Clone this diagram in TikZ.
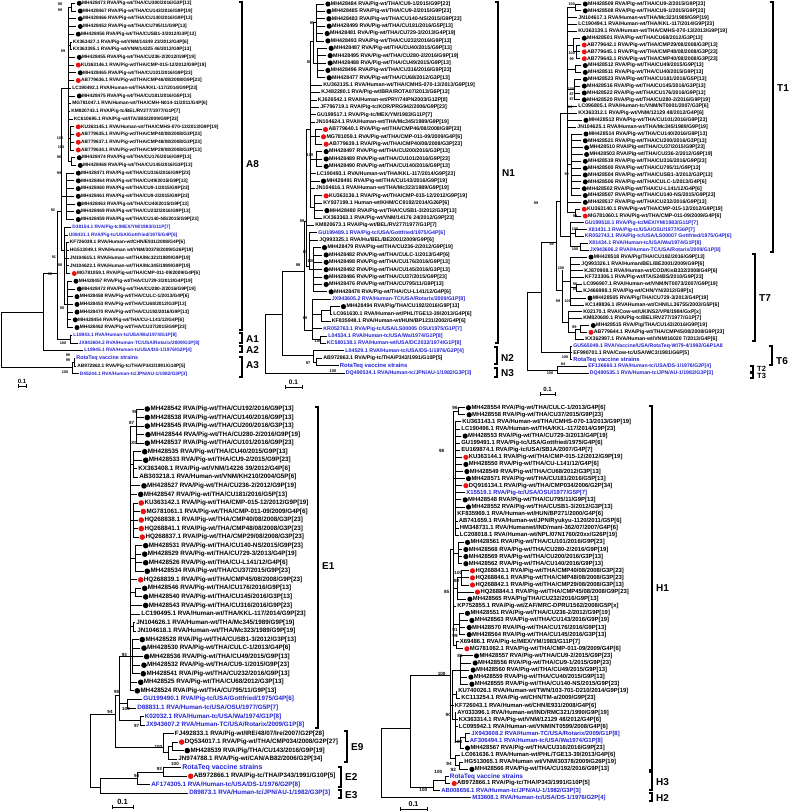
\documentclass[tikz,border=0pt]{standalone}
\usepackage{fontspec}
\setmainfont{Liberation Sans}
\definecolor{refblue}{RGB}{35,35,215}
\definecolor{cmpred}{RGB}{235,20,20}
\newcounter{bootno}
\def\cnsz{10}
\tikzset{
  branch/.style={line width=0.8pt, line cap=rect},
  bracket/.style={line width=1.8pt},
  taxon/.style={anchor=west, inner sep=0pt, xshift=1.2pt, font=\bfseries\fontsize{\fsz}{\fsz}\selectfont},
  plain/.style={},
  pig/.style={xshift=5.8pt, label distance=1.5pt, label={[pigdot]left:{}}},
  cmp/.style={xshift=5.8pt, label distance=1.5pt, label={[cmpdot]left:{}}},
  ref/.style={text=refblue},
  rota/.style={text=refblue, font=\bfseries\fontsize{\fszr}{\fszr}\selectfont},
  pigdot/.style={circle, fill=black, minimum size=\dotd, inner sep=0pt},
  cmpdot/.style={pigdot, fill=cmpred},
  bootval/.style={inner sep=0pt, font=\bfseries\fontsize{\bsz}{\bsz}\selectfont},
  cladename/.style={anchor=west, inner sep=0pt, font=\bfseries\fontsize{\cnsz}{\cnsz}\selectfont},
  scalelabel/.style={anchor=south, inner sep=0pt, font=\bfseries\fontsize{\ssz}{\ssz}\selectfont}
}
\newcommand{\pigwt}{RVA/Pig-wt/THA/}
\newcommand{\ry}[1]{\rowtop+(#1-1)*\rowgap}
% [kind]{row}{parent x}{tip x}{text}
\newcommand{\taxon}[5][plain]{%
  \draw[branch] (#3,{\ry{#2}}) -- (#4,{\ry{#2}});
  \node[taxon,#1] (\pfx-#2) at (#4,{\ry{#2}}) {#5};}
\newcommand{\clade}[3]{\draw[branch] (#1,{\ry{#2}}) -- (#1,{\ry{#3}});}
\newcommand{\stem}[3]{\draw[branch] (#2,{\ry{#1}}) -- (#3,{\ry{#1}});}
\newcommand{\boot}[3]{\stepcounter{bootno}\node[bootval] (bs\arabic{bootno}) at (#1,#2) {#3};}
\newcommand{\cladebar}[5]{%
  \draw[bracket] (#1-3.5,#2) -- (#1,#2) -- (#1,#3) -- (#1-3.5,#3);
  \node[cladename] (cl#4) at (#1+4,#5) {#4};}
\newcommand{\scalebar}[4]{%
  \draw[branch] (#1,#3-1.5) -- (#1,#3+1.5) (#1,#3) -- (#2,#3) (#2,#3-1.5) -- (#2,#3+1.5);
  \node[scalelabel] (#4) at ({(#1+#2)/2},#3-2.5) {0.1};}

\begin{document}
\begin{tikzpicture}[x=1pt,y=-1pt]
\fill[white] (0,0) rectangle (790,811);
\useasboundingbox (0,0) rectangle (790,811);

%% ---------- panel A (top left) ----------
\def\pfx{A}\def\rowtop{3.3}\def\rowgap{7.72}\def\fsz{4.8}\def\fszr{5.4}\def\dotd{5pt}\def\bsz{3.8}\def\ssz{6}
\taxon[pig]{1}{71}{75}{MH428473 \pigwt CU300/2016/G3P[13]}
\taxon[pig]{2}{71}{76}{MH428467 \pigwt CU143/2016/G9P[19]}
\taxon[pig]{3}{68}{76}{MH428466 \pigwt CU140/2016/G9P[13]}
\taxon[pig]{4}{68}{76}{MH428452 \pigwt CU795/11/G9P[13]}
\taxon[pig]{5}{68}{74}{MH428456 \pigwt CUSB1-3/2012/G3P[13]}
\taxon{6}{70}{71.5}{KX363427.1 RVA/Pig-wt/VNM/14249 23/2012/G4P[6]}
\taxon{7}{70}{71.5}{KX363395.1 RVA/Pig-wt/VNM/14225 46/2012/G9P[13]}
\taxon[pig]{8}{68}{75}{MH428455 \pigwt CU236-2/2012/G9P[19]}
\taxon[cmp]{9}{68}{74}{KU363146.1 \pigwt CMP-015-12/2012/G9P[19]}
\taxon[pig]{10}{68}{76}{MH428465 \pigwt CU101/2016/G9P[23]}
\taxon[cmp]{11}{68}{74}{AB779636.1 \pigwt CMP46/08/2008/G9P[23]}
\taxon{12}{68}{71}{LC190492.1 RVA/Human-wt/THA/KKL-117/2014/G9P[23]}
\taxon[pig]{13}{68}{75}{MH428475 \pigwt CU181/2016/G5P[13]}
\taxon{14}{68}{71}{MG781047.1 RVA/Human-wt/THA/CMH-N014-11/2011/G4P[6]}
\taxon{15}{68}{70}{KM820743.1 RVA/Pig-tc/BEL/RV277/1977/G1P[7]}
\taxon{16}{68}{72.5}{KC610695.1 RVA/Pig-wt/ITA/3BS/2009/G9P[23]}
\taxon[cmp]{17}{70}{74}{KU363145.1 RVA/Human-wt/THA/CMHS-070-13/2013/G9P[19]}
\taxon[cmp]{18}{70}{74}{AB779635.1 \pigwt CMP40/08/2008/G3P[23]}
\taxon[cmp]{19}{70}{74}{AB779637.1 \pigwt CMP48/08/2008/G3P[23]}
\taxon[cmp]{20}{70}{74}{AB779634.1 \pigwt CMP29/08/2008/G3P[13]}
\taxon[pig]{21}{71}{75}{MH428474 \pigwt CU176/2016/G9P[13]}
\taxon[pig]{22}{71}{76}{MH428468 \pigwt CU145/2016/G3P[13]}
\taxon[pig]{23}{66}{74}{MH428471 \pigwt CU316/2016/G9P[23]}
\taxon[pig]{24}{66}{74}{MH428464 \pigwt CU49/2015/G9P[13]}
\taxon[pig]{25}{66}{74}{MH428460 \pigwt CU9-1/2015/G9P[23]}
\taxon[pig]{26}{66}{74}{MH428461 \pigwt CU9-2/2015/G9P[23]}
\taxon[pig]{27}{66}{75}{MH428463 \pigwt CU40/2015/G9P[13]}
\taxon[pig]{28}{66}{74}{MH428469 \pigwt CU232/2016/G9P[13]}
\taxon[pig]{29}{66}{74}{MH428459 \pigwt CU140-NS/2015/G9P[23]}
\taxon[ref]{30}{64}{71}{D38154.1 RVA/Pig-tc/MEX/YM/1983/G11P[7]}
\taxon[ref]{31}{64}{67.5}{U08431.1 RVA/Pig-tc/USA/Gottfried/1975/G4P[6]}
\taxon{32}{66.5}{68.5}{KF726039.1 RVA/Human-wt/CHN/E931/2008/G4P[6]}
\taxon{33}{66.5}{68.5}{HG513049.1 RVA/Human wt/VNM/30378/2009/G26P[19]}
\taxon{34}{66.5}{68.5}{JN104615.1 RVA/Human-wt/THA/Mc323/1989/G9P[19]}
\taxon{35}{66.5}{68.5}{JN104623.1 RVA/Human-wt/THA/Mc345/1989/G9P[19]}
\taxon[cmp]{36}{66.5}{70}{MG781059.1 \pigwt CMP-011-09/2009/G4P[6]}
\taxon[pig]{37}{67}{71.7}{MH428457 \pigwt CU729-3/2013/G4P[19]}
\taxon[pig]{38}{67}{75}{MH428472 \pigwt CU280-2/2016/G9P[19]}
\taxon[pig]{39}{67}{72.7}{MH428458 \pigwt CULC-1/2013/G4P[6]}
\taxon[pig]{40}{67}{72.7}{MH428453 \pigwt CU68/2012/G3P[13]}
\taxon[pig]{41}{67}{72.7}{MH428470 \pigwt CU192/2016/G9P[13]}
\taxon[pig]{42}{67}{71}{MH428454 \pigwt CU-L141/12/G4P[6]}
\taxon[pig]{43}{67}{72.7}{MH428462 \pigwt CU37/2015/G9P[23]}
\taxon[ref]{44}{70}{72}{L18943.1 RVA/Human-tc/USA/Wa/1974/G1P[8]}
\taxon[ref]{45}{70}{77.5}{JX943604.2 RVA/Human-TC/USA/Rotarix/2009/G1P[8]}
\taxon[ref]{46}{43}{83}{L18945.1 RVA/Human-tc/USA/DS-1/1976/G2P[4]}
\taxon[rota]{47}{74}{75}{RotaTeq vaccine strains}
\taxon{48}{74}{76}{AB972862.1 RVA/Pig-tc/THA/P343/1991/G10P[5]}
\taxon[ref]{49}{72}{78.5}{D45244.1 RVA/Human-tc/JPN/AU-1/1982/G3P[3]}
% inner branches
\clade{71}{1}{2} \stem{1.5}{68}{71}
\clade{70}{6}{7} \stem{6.5}{68}{70}
\clade{70}{17}{20} \stem{18.5}{68}{70}
\clade{71}{21}{22} \stem{21.5}{68}{71}
\clade{68}{1.5}{21.5} \stem{12}{61}{68}
\clade{66}{23}{29} \stem{26}{61}{66}
\clade{66.5}{32}{36} \stem{34}{64}{66.5}
\clade{67}{37}{43} \stem{40}{64}{67}
\clade{64}{30}{40} \stem{33}{61}{64}
\clade{61}{12}{33} \stem{28}{57}{61}
\clade{70}{44}{45} \stem{44.5}{57}{70}
\clade{57}{28}{44.5} \stem{36}{43}{57}
\clade{43}{36}{46}
\clade{74}{47}{48} \stem{47.5}{72}{74}
\clade{72}{47.5}{49}
\clade{1}{41.1}{48.2} \stem{41.1}{1}{43} \stem{48.2}{1}{72}
% support values
\boot{60}{4}{98} \boot{60}{10}{99} \boot{63}{51}{99} \boot{60}{138}{100}
\boot{61}{147}{100} \boot{59}{157}{96} \boot{59}{173}{99} \boot{53}{210}{92}
\boot{54}{257}{91} \boot{60}{265}{98} \boot{50}{274}{98} \boot{62}{308}{98}
\boot{63}{343}{100} \boot{68}{355}{99} \boot{68}{360}{99} \boot{65}{372}{100}
\cladebar{242}{2}{330}{A8}{164}
\cladebar{242}{333}{343}{A1}{339}
\cladebar{242}{346}{352}{A2}{350}
\cladebar{242}{357}{377}{A3}{365}
\scalebar{18}{26}{386}{sbA}

%% ---------- panel N (top middle) ----------
\def\pfx{N}\def\rowtop{4}\def\rowgap{7.38}\def\fsz{5.3}\def\fszr{5.9}\def\dotd{5.2pt}\def\bsz{4}\def\ssz{6.5}
\taxon[pig]{1}{316}{323.7}{MH428484 \pigwt CU9-1/2015/G9P[23]}
\taxon[pig]{2}{316}{324.7}{MH428485 \pigwt CU9-2/2015/G9P[23]}
\taxon[pig]{3}{316}{324.7}{MH428483 \pigwt CU140-NS/2015/G9P[23]}
\taxon[pig]{4}{316}{325}{MH428499 \pigwt CU181/2016/G5P[13]}
\taxon[pig]{5}{316}{323}{MH428481 \pigwt CU729-3/2013/G4P[19]}
\taxon[pig]{6}{316}{323.7}{MH428493 \pigwt CU232/2016/G9P[13]}
\taxon[pig]{7}{317}{327}{MH428487 \pigwt CU40/2015/G9P[13]}
\taxon[pig]{8}{317}{326}{MH428495 \pigwt CU280-2/2016/G9P[19]}
\taxon[pig]{9}{317}{326}{MH428488 \pigwt CU49/2015/G9P[13]}
\taxon[pig]{10}{317}{323.7}{MH428496 \pigwt CU316/2016/G9P[23]}
\taxon[pig]{11}{317}{325}{MH428477 \pigwt CU68/2012/G3P[13]}
\taxon{12}{310}{322}{KU363135.1 RVA/Human-wt/THA/CMHS-070-13/2013/G9P[19]}
\taxon{13}{310}{320}{KJ482280.1 RVA/Pig-wt/BRA/ROTA07/2013/G6P[13]}
\taxon{14}{310}{316.5}{KJ626542.1 RVA/Human-wt/PRY/74IPN2003/G12P[8]}
\taxon{15}{310}{319}{JF796719.1 RVA/Pig-tc/KOR/PRG942/2006/G9P[23]}
\taxon{16}{310}{315.5}{GU199517.1 RVA/Pig-tc/MEX/YM/1983/G11P[7]}
\taxon{17}{310}{314.5}{JN104624.1 RVA/Human-wt/THA/Mc345/1989/G9P[19]}
\taxon[cmp]{18}{315}{321.3}{AB779640.1 \pigwt CMP46/08/2008/G9P[23]}
\taxon[cmp]{19}{315}{319.3}{MG781059.1 \pigwt CMP-011-09/2009/G4P[6]}
\taxon[cmp]{20}{315}{322}{AB779639.1 \pigwt CMP40/08/2008/G3P[23]}
\taxon[pig]{21}{316}{322}{MH428497 \pigwt CU200/2016/G3P[13]}
\taxon[pig]{22}{316}{322}{MH428489 \pigwt CU101/2016/G9P[23]}
\taxon[pig]{23}{316}{322}{MH428490 \pigwt CU140/2016/G9P[13]}
\taxon{24}{310}{315.5}{LC190493.1 RVA/Human-wt/THA/KKL-117/2014/G9P[23]}
\taxon[pig]{25}{310}{319.3}{MH428491 \pigwt CU143/2016/G9P[19]}
\taxon{26}{310}{314.5}{JN104616.1 RVA/Human-wt/THA/Mc323/1989/G9P[19]}
\taxon[cmp]{27}{314}{322}{KU363136.1 \pigwt CMP-015-12/2012/G9P[19]}
\taxon{28}{314}{322}{KY937199.1 Human-wt/KHM/CC9192/2014/G26P[6]}
\taxon[pig]{29}{314}{322.7}{MH428480 \pigwt CUSB1-3/2012/G3P[13]}
\taxon{30}{314}{322}{KX363363.1 RVA/Pig-wt/VNM/14176 24/2012/G9P[23]}
\taxon{31}{306}{314}{KM820673.1 RVA/Pig-wt/BEL/RV277/1977/G1P[7]}
\taxon[ref]{32}{309}{317}{GU199489.1 RVA/Pig-tc/USA/Gottfried/1975/G4P[6]}
\taxon{33}{309}{318}{JQ993325.1 RVA/Hu/BEL/BE2001/2009/G9P[6]}
\taxon[pig]{34}{313}{320.3}{MH428479 \pigwt CU236-2/2012/G9P[19]}
\taxon[pig]{35}{313}{322}{MH428482 \pigwt CULC-1/2013/G4P[6]}
\taxon[pig]{36}{313}{322}{MH428498 \pigwt CU176/2016/G9P[13]}
\taxon[pig]{37}{313}{322}{MH428492 \pigwt CU145/2016/G3P[13]}
\taxon[pig]{38}{313}{322}{MH428486 \pigwt CU37/2015/G9P[23]}
\taxon[pig]{39}{313}{322}{MH428476 \pigwt CU795/11/G9P[13]}
\taxon[pig]{40}{313}{327}{MH428478 \pigwt CU-L141/12/G4P[6]}
\taxon[ref]{41}{312}{330.5}{JX943605.2 RVA/Human-TC/USA/Rotarix/2009/G1P[8]}
\taxon[pig]{42}{330}{339.3}{MH428494 RVA/Pig/THA/CU192/2016/G9P[13]}
\taxon{43}{330}{332}{LC061630.1 RVA/Human-wt/PHL/TGE13-39/2013/G4P[6]}
\taxon{44}{321}{330.5}{KF835948.1 RVA/Human-wt/HUN/BP1231/2002/G4P[6]}
\taxon[ref]{45}{312}{322}{KR052763.1 RVA/Pig-tc/USA/LS00005 OSU/1975/G1P[7]}
\taxon[ref]{46}{320}{327}{L04534.1 RVA/Human-tc/USA/Wa/1974/G1P[8]}
\taxon[ref]{47}{320}{325.5}{KC580138.1 RVA/Human-wt/USA/DC2032/1974/G1P[8]}
\taxon[ref]{48}{313}{344}{L04529.1 RVA/Human-tc/USA/DS-1/1976/G2P[4]}
\taxon{49}{316}{322}{AB972863.1 RVA/Pig-tc/THA/P343/1991/G10P[5]}
\taxon[rota]{50}{316}{338.5}{RotaTeq vaccine strains}
\taxon[ref]{51}{265}{344.5}{DQ490534.1 RVA/Human-tc/JPN/AU-1/1982/G3P[3]}
% inner branches
\clade{316}{1}{6} \stem{3.5}{313}{316}
\clade{317}{7}{11} \stem{9}{313}{317}
\clade{313}{3.5}{9} \stem{6}{310}{313}
\clade{315}{18}{20} \stem{19}{310}{315}
\clade{316}{21}{23} \stem{22}{310}{316}
\clade{314}{27}{30} \stem{28.5}{310}{314}
\clade{310}{6}{28.5} \stem{18}{306}{310}
\clade{313}{34}{40} \stem{37}{309}{313}
\clade{309}{32}{37} \stem{36.5}{306}{309}
\clade{306}{18}{36.5} \stem{30.5}{304}{306}
\clade{330}{42}{43} \stem{42.5}{321}{330}
\clade{321}{42.5}{44} \stem{43}{312}{321}
\clade{320}{46}{47} \stem{46.5}{312}{320}
\clade{312}{41}{46.5} \stem{45.2}{304}{312}
\clade{304}{30.5}{45.2} \stem{37.2}{282}{304}
\clade{316}{49}{50} \stem{49.5}{313}{316}
\clade{313}{48}{49.5} \stem{48.6}{282}{313}
\clade{282}{37.2}{48.6} \stem{43.1}{265}{282}
\clade{265}{43.1}{51}
% support values
\boot{312}{23}{95} \boot{309}{62}{80} \boot{310}{155}{100} \boot{302}{221}{99}
\boot{305}{252}{89} \boot{311}{261}{100} \boot{298}{265}{98} \boot{305}{318}{88}
\boot{318}{341}{100} \boot{308}{363}{97} \boot{333}{371}{100}
\cladebar{498}{2}{343}{N1}{173}
\cladebar{497}{347}{364}{N2}{358}
\cladebar{497}{368}{377}{N3}{373}
\scalebar{285}{302}{387}{sbN}

%% ---------- panel T (top right) ----------
\def\pfx{T}\def\rowtop{4}\def\rowgap{6.84}\def\fsz{5.2}\def\fszr{5.8}\def\dotd{5pt}\def\bsz{3.8}\def\ssz{6}
\taxon[pig]{1}{575}{581}{MH428509 \pigwt CU9-2/2015/G9P[23]}
\taxon[pig]{2}{575}{581}{MH428508 \pigwt CU9-1/2015/G9P[23]}
\taxon{3}{567}{577}{JN104617.1 RVA/Human-wt/THA/Mc323/1989/G9P[19]}
\taxon{4}{567}{577}{LC190494.1 RVA/Human-wt/THA/KKL-117/2014/G9P[23]}
\taxon{5}{567}{577}{KU363139.1 RVA/Human-wt/THA/CMHS-070-13/2013/G9P[19]}
\taxon[pig]{6}{573}{580}{MH428501 \pigwt CU68/2012/G3P[13]}
\taxon[cmp]{7}{576}{580}{AB779642.1 \pigwt CMP29/08/2008/G3P[13]}
\taxon[cmp]{8}{576}{580}{AB779645.1 \pigwt CMP48/08/2008/G3P[23]}
\taxon[cmp]{9}{576}{580}{AB779643.1 \pigwt CMP40/08/2008/G3P[23]}
\taxon[pig]{10}{575}{581}{MH428512 \pigwt CU49/2015/G9P[13]}
\taxon[pig]{11}{575}{581}{MH428511 \pigwt CU40/2015/G9P[13]}
\taxon[pig]{12}{574}{581}{MH428523 \pigwt CU181/2016/G5P[13]}
\taxon[pig]{13}{574}{580}{MH428516 \pigwt CU145/2016/G3P[13]}
\taxon[pig]{14}{574}{580}{MH428522 \pigwt CU176/2016/G9P[13]}
\taxon[pig]{15}{574}{580}{MH428520 \pigwt CU280-2/2016/G9P[19]}
\taxon{16}{567}{577}{LC096805.1 RVA/Human-tc/VNM/NT0001/2007/G3P[6]}
\taxon{17}{567}{577}{KX363312.1 RVA/Pig-wt/VNM/12129 48/2012/G4P[6]}
\taxon[pig]{18}{567}{581.7}{MH428513 \pigwt CU101/2016/G9P[23]}
\taxon{19}{567}{576}{JN104625.1 RVA/Human-wt/THA/Mc345/1989/G9P[19]}
\taxon[pig]{20}{571}{581.7}{MH428514 \pigwt CU140/2016/G9P[13]}
\taxon[pig]{21}{571}{581}{MH428521 \pigwt CU200/2016/G3P[13]}
\taxon[pig]{22}{571}{582.3}{MH428510 \pigwt CU37/2015/G9P[23]}
\taxon[pig]{23}{571}{582.3}{MH428503 \pigwt CU236-2/2012/G9P[19]}
\taxon[pig]{24}{571}{581}{MH428519 \pigwt CU316/2016/G9P[23]}
\taxon[pig]{25}{571}{581}{MH428500 \pigwt CU795/11/G9P[13]}
\taxon[pig]{26}{571}{581}{MH428504 \pigwt CUSB1-3/2012/G3P[13]}
\taxon[pig]{27}{571}{581}{MH428506 \pigwt CULC-1/2013/G4P[6]}
\taxon[pig]{28}{571}{580}{MH428502 \pigwt CU-L141/12/G4P[6]}
\taxon[pig]{29}{571}{581}{MH428507 \pigwt CU140-NS/2015/G9P[23]}
\taxon[pig]{30}{567}{581}{MH428517 \pigwt CU232/2016/G9P[13]}
\taxon[cmp]{31}{575}{580}{KU363140.1 \pigwt CMP-015-12/2012/G9P[19]}
\taxon[cmp]{32}{575}{581}{MG781060.1 \pigwt CMP-011-09/2009/G4P[6]}
\taxon[ref]{33}{570}{583.5}{GU199518.1 RVA/Pig-tc/MEX/YM/1983/G11P[7]}
\taxon[ref]{34}{575}{587}{X81431.1 RVA/Pig-tc/USA/OSU/1977/G6P[7]}
\taxon[ref]{35}{575}{583.5}{KR052743.1 RVA/Pig-tc/USA/LS00007 Gottfried/1975/G4P[6]}
\taxon[ref]{36}{580}{587.5}{X81434.1 RVA/Human-tc/USA/Wa/1974/G1P[8]}
\taxon[ref]{37}{580}{588.5}{JX943606.2 RVA/Human-TC/USA/Rotarix/2009/G1P[8]}
\taxon[pig]{38}{570}{586.7}{MH428518 RVA/Pig/THA/CU192/2016/G9P[13]}
\taxon{39}{570}{580}{JQ993326.1 RVA/Human/BEL/BE2001/2009/G9P[6]}
\taxon{40}{570}{583}{KJ870908.1 RVA/Human-wt/COD/KisB332/2008/G4P[6]}
\taxon{41}{570}{583.5}{KF723306.1 RVA/Pig-wt/ITA/524BS/2010/G9P[23]}
\taxon{42}{576}{582}{LC096907.1 RVA/Human-wt/VNM/NT0073/2007/G9P[19]}
\taxon{43}{576}{582}{KJ466988.1 RVA/Pig-wt/CHN/YN/2012/G9P[x]}
\taxon[pig]{44}{570}{585.7}{MH428505 RVA/Pig/THA/CU729-3/2013/G4P[19]}
\taxon{45}{570}{584}{KC149836.1 /RVAHuman-wt/CHN/LL36755/2003/G5P[6]}
\taxon{46}{568}{582}{K02170.1 RVA/Cow-wt/UK/NS2/VP8/1984/GxP[x]}
\taxon{47}{568}{582}{KM820680.1 RVA/Pig-tc/BEL/RV277/1977/G1P[7]}
\taxon[pig]{48}{580}{589}{MH428515 RVA/Pig/THA/CU143/2016/G9P[19]}
\taxon[cmp]{49}{580}{586.7}{AB779644.1 \pigwt CMP45/08/2008/G9P[23]}
\taxon{50}{575}{584}{KX362997.1 RVA/Human-wt/VNM/16020 7/2013/G4P[6]}
\taxon[ref]{51}{570}{572}{GU565049.1 RVA/Vaccine/USA/RotaTeq-WI79-4/1992/G6P1A8}
\taxon{52}{570}{572}{EF990701.1 RVA/Cow-tc/USA/WC3/1981/G6P[5]}
\taxon[rota]{53}{570}{572}{RotaTeq vaccine strains}
\taxon[ref]{54}{557}{587}{EF136660.1 RVA/Human-tc/USA/DS-1/1976/G2P[4]}
\taxon[ref]{55}{557}{588.5}{DQ490535.1 RVA/Human-tc/JPN/AU-1/1982/G3P[3]}
% inner branches
\clade{575}{1}{2} \stem{1.5}{567}{575}
\clade{576}{7}{9} \stem{8}{573}{576}
\clade{573}{6}{8} \stem{7}{567}{573}
\clade{575}{10}{11} \stem{10.5}{567}{575}
\clade{574}{12}{15} \stem{13.5}{567}{574}
\clade{571}{20}{29} \stem{24.5}{567}{571}
\clade{575}{31}{32} \stem{31.5}{567}{575}
\clade{567}{1.5}{31.5} \stem{17}{560}{567}
\clade{575}{34}{35} \stem{34.5}{570}{575}
\clade{580}{36}{37} \stem{36.5}{570}{580}
\clade{570}{33}{36.5} \stem{35}{560}{570}
\clade{560}{17}{35} \stem{29.9}{556}{560}
\clade{576}{42}{43} \stem{42.5}{570}{576}
\clade{570}{38}{45} \stem{41.5}{562}{570}
\clade{580}{48}{49} \stem{48.5}{575}{580}
\clade{575}{48.5}{50} \stem{49}{568}{575}
\clade{568}{46}{49} \stem{47.5}{562}{568}
\clade{562}{40}{47.5} \stem{42.8}{556}{562}
\clade{556}{29.9}{42.8} \stem{35.9}{541}{556}
\clade{570}{51}{53} \stem{52}{541}{570}
\clade{541}{35.9}{52} \stem{43.2}{527}{541}
\clade{557}{54}{55} \stem{54.5}{527}{557}
\clade{527}{43.2}{54.5}
% support values
\boot{571.7}{4}{100} \boot{571.7}{53.3}{100} \boot{571.7}{59.3}{99} \boot{571}{89.3}{100}
\boot{571.7}{94.3}{87} \boot{571.7}{99.3}{87} \boot{570}{106.7}{84} \boot{566.7}{174}{99}
\boot{536}{203}{99} \boot{575}{216}{99} \boot{575}{229.3}{100} \boot{551.7}{244.3}{89}
\boot{575}{249.3}{100} \boot{561}{267.7}{100} \boot{575}{284.3}{96} \boot{575}{289}{89}
\boot{558}{301}{99} \boot{567.7}{301}{100} \boot{574.3}{326.7}{99} \boot{565}{357.5}{100}
\boot{563}{364}{84} \boot{550}{373.3}{100}
\cladebar{773}{2}{252}{T1}{88}
\cladebar{755}{254}{341}{T7}{298}
\cladebar{772}{346}{365}{T6}{361}
\def\cnsz{7.5}
\cladebar{753}{366}{372}{T2}{368.7}
\cladebar{753}{373.5}{378}{T3}{376.3}
\def\cnsz{10}
\scalebar{540}{555}{394}{sbT}

%% ---------- panel E (bottom left) ----------
\def\pfx{E}\def\rowtop{409}\def\rowgap{8.54}\def\fsz{6.3}\def\fszr{7}\def\dotd{5.6pt}\def\bsz{4.5}\def\ssz{7.5}
\taxon[pig]{1}{136}{143.3}{MH428542 \pigwt CU192/2016/G9P[13]}
\taxon[pig]{2}{136}{143.3}{MH428538 \pigwt CU140/2016/G9P[13]}
\taxon[pig]{3}{136}{143.3}{MH428545 \pigwt CU200/2016/G3P[13]}
\taxon[pig]{4}{136}{144}{MH428544 \pigwt CU280-2/2016/G9P[19]}
\taxon[pig]{5}{136}{143.3}{MH428537 \pigwt CU101/2016/G9P[23]}
\taxon[pig]{6}{133}{140.7}{MH428535 \pigwt CU40/2015/G9P[13]}
\taxon[pig]{7}{133}{141.7}{MH428533 \pigwt CU9-2/2015/G9P[23]}
\taxon{8}{133}{137}{KX363408.1 RVA/Pig-wt/VNM/14226 39/2012/G4P[6]}
\taxon{9}{133}{138}{AB303218.1 RVA/Human-wt/VNM/KH210/2004/G5P[6]}
\taxon[pig]{10}{130}{140}{MH428527 \pigwt CU236-2/2012/G9P[19]}
\taxon[pig]{11}{130}{136.7}{MH428547 \pigwt CU181/2016/G5P[13]}
\taxon[cmp]{12}{133}{137.3}{KU363142.1 \pigwt CMP-015-12/2012/G9P[19]}
\taxon[cmp]{13}{133}{139.3}{MG781061.1 \pigwt CMP-011-09/2009/G4P[6]}
\taxon[cmp]{14}{133}{137.3}{HQ268838.1 \pigwt CMP40/08/2008/G3P[23]}
\taxon[cmp]{15}{133}{137.3}{HQ268841.1 \pigwt CMP48/08/2008/G3P[23]}
\taxon[cmp]{16}{133}{138.3}{HQ268837.1 \pigwt CMP29/08/2008/G3P[23]}
\taxon[pig]{17}{135}{141.7}{MH428531 \pigwt CU140-NS/2015/G9P[23]}
\taxon[pig]{18}{135}{140.7}{MH428529 \pigwt CU729-3/2013/G4P[19]}
\taxon[pig]{19}{135}{141.7}{MH428526 \pigwt CU-L141/12/G4P[6]}
\taxon[pig]{20}{135}{143.3}{MH428534 \pigwt CU37/2015/G9P[23]}
\taxon[cmp]{21}{130}{136.7}{HQ268839.1 \pigwt CMP45/08/2008/G9P[23]}
\taxon[pig]{22}{135}{140.7}{MH428546 \pigwt CU176/2016/G9P[13]}
\taxon[pig]{23}{135}{141.7}{MH428540 \pigwt CU145/2016/G3P[13]}
\taxon[pig]{24}{130}{141.7}{MH428543 \pigwt CU316/2016/G9P[23]}
\taxon{25}{130}{140}{LC190495.1 RVA/Human-wt/THA/KKL-117/2014/G9P[23]}
\taxon{26}{133}{135}{JN104626.1 RVA/Human-wt/THA/Mc345/1989/G9P[19]}
\taxon{27}{133}{136}{JN104618.1 RVA/Human-wt/THA/Mc323/1989/G9P[19]}
\taxon[pig]{28}{132}{138.3}{MH428528 \pigwt CUSB1-3/2012/G3P[13]}
\taxon[pig]{29}{132}{140}{MH428530 \pigwt CULC-1/2013/G4P[6]}
\taxon[pig]{30}{132}{142.7}{MH428536 \pigwt CU49/2015/G9P[13]}
\taxon[pig]{31}{132}{140}{MH428532 \pigwt CU9-1/2015/G9P[23]}
\taxon[pig]{32}{132}{139.3}{MH428541 \pigwt CU232/2016/G9P[13]}
\taxon[pig]{33}{130}{136.7}{MH428525 \pigwt CU68/2012/G3P[13]}
\taxon[pig]{34}{130}{133.3}{MH428524 \pigwt CU795/11/G9P[13]}
\taxon[ref]{35}{127}{142}{GU199490.1 RVA/Pig-tc/USA/Gottfried/1975/G4P[6]}
\taxon[ref]{36}{127}{136}{D88831.1 RVA/Human-tc/USA/OSU/1977/G5P[7]}
\taxon[ref]{37}{140}{143.5}{K02032.1 RVA/Human-tc/USA/Wa/1974/G1P[8]}
\taxon[ref]{38}{140}{144.5}{JX943607.2 RVA/Human-TC/USA/Rotarix/2009/G1P[8]}
\taxon{39}{163}{173.5}{FJ492833.1 RVA/Pig-wt/IRE/48/07/Ire/2007/G2P[28]}
\taxon[cmp]{40}{172}{177.7}{DQ534017.1 \pigwt CMP034/2008/G2P[27]}
\taxon[pig]{41}{172}{183.3}{MH428539 RVA/Pig/THA/CU143/2016/G9P[19]}
\taxon{42}{168}{177}{JN974788.1 RVA/Pig-wt/CAN/AB82/2006/G2P[34]}
\taxon[rota]{43}{163}{181}{RotaTeq vaccine strains}
\taxon[cmp]{44}{163}{186.7}{AB972866.1 RVA/Pig-tc/THA/P343/1991/G10P[5]}
\taxon[ref]{45}{137}{150}{AF174305.1 RVA/Human-tc/USA/DS-1/1976/G2P[8]}
\taxon[ref]{46}{100}{188}{D89873.1 RVA/Human-tc/JPN/AU-1/1982/G3P[3]}
% inner branches
\clade{136}{1}{5} \stem{3}{130}{136}
\clade{133}{6}{9} \stem{7.5}{130}{133}
\clade{133}{12}{16} \stem{14}{130}{133}
\clade{135}{17}{20} \stem{18.5}{130}{135}
\clade{135}{22}{23} \stem{22.5}{130}{135}
\clade{133}{26}{27} \stem{26.5}{130}{133}
\clade{132}{28}{32} \stem{30}{130}{132}
\clade{130}{3}{34} \stem{30}{119}{130}
\clade{127}{35}{36} \stem{35.5}{119}{127}
\clade{140}{37}{38} \stem{37.5}{119}{140}
\clade{119}{30}{37.5} \stem{34.5}{115}{119}
\clade{172}{40}{41} \stem{40.5}{168}{172}
\clade{168}{40.5}{42} \stem{41.25}{163}{168}
\clade{163}{39}{41.25} \stem{40.6}{115}{163}
\clade{115}{34.5}{40.6}
\clade{163}{43}{44} \stem{43.5}{137}{163}
\clade{137}{43.5}{45} \stem{44.2}{100}{137}
\clade{100}{44.2}{46}
\clade{90}{36.8}{45.3} \stem{36.8}{90}{115} \stem{45.3}{90}{100}
% support values
\boot{135}{412.3}{96} \boot{131.7}{423.3}{87} \boot{133.3}{443.3}{100} \boot{124.3}{655}{93}
\boot{116.7}{692.3}{98} \boot{126}{709}{100} \boot{110}{712.3}{94} \boot{136.7}{726}{97}
\boot{158.3}{746.7}{100} \boot{175}{764.3}{100} \boot{159.3}{769}{93} \boot{136.7}{775.7}{94}
\cladebar{318}{407}{728}{E1}{566}
\cladebar{347}{731}{762}{E9}{747}
\cladebar{341}{767}{787}{E2}{777}
\cladebar{341}{790}{798}{E3}{795}
\scalebar{112}{133}{807}{sbE}

%% ---------- panel H (bottom right) ----------
\def\pfx{H}\def\rowtop{407.7}\def\rowgap{7.09}\def\fsz{5.9}\def\fszr{6.4}\def\dotd{5.2pt}\def\bsz{4.6}\def\ssz{7}
\taxon[pig]{1}{458}{464.3}{MH428554 \pigwt CULC-1/2013/G4P[6]}
\taxon[pig]{2}{458}{465}{MH428558 \pigwt CU37/2015/G9P[23]}
\taxon{3}{455}{461}{KU363143.1 RVA/Human-wt/THA/CMHS-070-13/2013/G9P[19]}
\taxon{4}{455}{460}{LC190496.1 RVA/Human-wt/THA/KKL-117/2014/G9P[23]}
\taxon[pig]{5}{455}{461}{MH428553 \pigwt CU729-3/2013/G4P[19]}
\taxon{6}{455}{460}{GU199491.1 RVA/Pig-tc/USA/Gottfried/1975/G4P[6]}
\taxon{7}{455}{460}{EU169874.1 RVA/Pig-tc/USA/SB1A/2007/G4P[7]}
\taxon[cmp]{8}{455}{461.7}{KU363144.1 \pigwt CMP-015-12/2012/G9P[19]}
\taxon[pig]{9}{455}{461.7}{MH428550 \pigwt CU-L141/12/G4P[6]}
\taxon[pig]{10}{455}{462.7}{MH428549 \pigwt CU68/2012/G3P[13]}
\taxon[pig]{11}{455}{464.3}{MH428571 \pigwt CU181/2016/G5P[13]}
\taxon[cmp]{12}{455}{461.7}{DQ916134.1 \pigwt CMP034/2006/G2P[34]}
\taxon[ref]{13}{455}{465}{X15519.1 RVA/Pig-tc/USA/OSU/1977/G5P[7]}
\taxon[pig]{14}{455}{461}{MH428548 \pigwt CU795/11/G9P[13]}
\taxon[pig]{15}{455}{464.3}{MH428552 \pigwt CUSB1-3/2012/G3P[13]}
\taxon{16}{455}{456}{KF835969.1 RVA/Human-wt/HUN/BP271/2000/G4P[6]}
\taxon{17}{455}{457.5}{AB741659.1 RVA/Human-wt/JPN/Ryukyu-1120/2011/G5P[6]}
\taxon{18}{455}{458.5}{HM348731.1 RVA/Humanwt/IND/mani-362/07/2007/G4P[6]}
\taxon{19}{455}{458.5}{LC208018.1 RVA/Human-wt/NPL/07N1760/20xx/G26P[19]}
\taxon[pig]{20}{458}{463.3}{MH428561 \pigwt CU101/2016/G9P[23]}
\taxon[pig]{21}{458}{461.7}{MH428568 \pigwt CU280-2/2016/G9P[19]}
\taxon[pig]{22}{458}{461.7}{MH428569 \pigwt CU200/2016/G3P[13]}
\taxon[pig]{23}{458}{461.7}{MH428562 \pigwt CU140/2016/G9P[13]}
\taxon[cmp]{24}{461}{468.3}{HQ268843.1 \pigwt CMP40/08/2008/G3P[23]}
\taxon[cmp]{25}{461}{468.3}{HQ268846.1 \pigwt CMP48/08/2008/G3P[23]}
\taxon[cmp]{26}{461}{468.3}{HQ268842.1 \pigwt CMP29/08/2008/G3P[13]}
\taxon[cmp]{27}{457}{473.3}{HQ268844.1 \pigwt CMP45/08/2008/G9P[23]}
\taxon[pig]{28}{457}{465.7}{MH428565 RVA/Pig/THA/CU232/2016/G9P[13]}
\taxon{29}{453}{456}{KP752855.1 RVA/Pig-wt/ZAF/MRC-DPRU1562/2008/G5P[x]}
\taxon[pig]{30}{459}{463.3}{MH428551 \pigwt CU236-2/2012/G9P[19]}
\taxon[pig]{31}{459}{467.7}{MH428563 \pigwt CU143/2016/G9P[19]}
\taxon[pig]{32}{459}{465}{MH428570 \pigwt CU176/2016/G9P[13]}
\taxon[pig]{33}{459}{465}{MH428564 \pigwt CU145/2016/G3P[13]}
\taxon{34}{456}{458.5}{X69486.1 RVA/Pig-tc/MEX/YM/1983/G11P[7]}
\taxon[cmp]{35}{456}{462.7}{MG781062.1 \pigwt CMP-011-09/2009/G4P[6]}
\taxon[pig]{36}{460}{472.3}{MH428557 \pigwt CU9-2/2015/G9P[23]}
\taxon[pig]{37}{460}{471}{MH428556 \pigwt CU9-1/2015/G9P[23]}
\taxon[pig]{38}{460}{469}{MH428560 \pigwt CU49/2015/G9P[13]}
\taxon[pig]{39}{460}{466.7}{MH428559 \pigwt CU40/2015/G9P[13]}
\taxon[pig]{40}{460}{467.7}{MH428555 \pigwt CU140-NS/2015/G9P[23]}
\taxon{41}{456}{457}{KU740026.1 RVA/Human-wt/TWN/103-701-D210/2014/G9P[19]}
\taxon{42}{456}{460}{KC113254.1 RVA/Pig-wt/CHN/TM-a/2009/G9P[23]}
\taxon{43}{452}{453.5}{KF726043.1 RVA/Human-wt/CHN/E931/2008/G4P[6]}
\taxon{44}{455}{456}{AY033396.1 RVA/Human-wt/IND/RMC321/1990/G9P[19]}
\taxon{45}{455}{457.5}{KX363314.1 RVA/Pig-wt/VNM/12129 48/2012/G4P[6]}
\taxon{46}{455}{457.5}{LC095942.1 RVA/Human-wt/VNM/NT0599/2008/G4P[6]}
\taxon[ref]{47}{465}{470}{JX943608.2 RVA/Human-TC/USA/Rotarix/2009/G1P[8]}
\taxon[ref]{48}{465}{468.5}{AF306494.1 RVA/Human-tc/USA/Wa1974/G1P[8]}
\taxon[pig]{49}{460}{463.3}{MH428567 \pigwt CU316/2016/G9P[23]}
\taxon{50}{455}{460}{LC061636.1 RVA/Human-wt/PHL/TGE13-39/2013/G4P[6]}
\taxon{51}{459}{463}{HG513065.1 RVA/Human wt/VNM/30378/2009/G26P[19]}
\taxon[pig]{52}{459}{467.7}{MH428566 \pigwt CU192/2016/G9P[13]}
\taxon[rota]{53}{445}{448.5}{RotaTeq vaccine strains}
\taxon[cmp]{54}{445}{450}{AB972866.1 RVA/Pig-tc/THA/P343/1991/G10P[5]}
\taxon[ref]{55}{433}{440}{AB008656.1 RVA/Human-tc/JPN/AU-1/1982/G3P[3]}
\taxon[ref]{56}{381}{471}{M33608.1 RVA/Human-tc/USA/DS-1/1976/G2P[4]}
% inner branches
\clade{458}{1}{2} \stem{1.5}{453}{458}
\clade{455}{3}{19} \stem{11}{453}{455}
\clade{458}{20}{23} \stem{21.5}{453}{458}
\clade{461}{24}{26} \stem{25}{457}{461}
\clade{457}{25}{28} \stem{26.5}{453}{457}
\clade{459}{30}{33} \stem{31.5}{453}{459}
\clade{456}{34}{35} \stem{34.5}{453}{456}
\clade{453}{1.5}{34.5} \stem{21}{450}{453}
\clade{460}{36}{40} \stem{38}{452}{460}
\clade{456}{41}{42} \stem{41.5}{452}{456}
\clade{465}{47}{48} \stem{47.5}{460}{465}
\clade{460}{47.5}{49} \stem{48}{455}{460}
\clade{455}{44}{48} \stem{45}{452}{455}
\clade{452}{38}{45} \stem{43}{450}{452}
\clade{459}{51}{52} \stem{51.5}{455}{459}
\clade{455}{50}{51.5} \stem{50.5}{450}{455}
\clade{450}{21}{50.5} \stem{38.7}{410}{450}
\clade{445}{53}{54} \stem{53.5}{433}{445}
\clade{433}{53.5}{55} \stem{54.5}{410}{433}
\clade{410}{38.7}{54.5} \stem{46.2}{381}{410}
\clade{381}{46.2}{56}
% support values
\boot{455}{407.7}{96} \boot{441.7}{451}{98} \boot{458.3}{573.3}{100} \boot{456.7}{580.7}{80}
\boot{446.7}{592.3}{85} \boot{455}{630}{91} \boot{455}{635.7}{99} \boot{460}{655.7}{86}
\boot{441.7}{674.3}{100} \boot{448.3}{715}{90} \boot{458.3}{741.7}{100} \boot{449}{764.3}{94}
\boot{453.3}{770}{92} \boot{438.3}{772.3}{100} \boot{423.3}{790}{100}
\cladebar{652}{406}{770}{H1}{588}
\cladebar{652}{772}{790}{H3}{782}
\cladebar{652}{793}{801}{H2}{798}
\scalebar{400}{427}{809}{sbH}
\end{tikzpicture}
\end{document}
